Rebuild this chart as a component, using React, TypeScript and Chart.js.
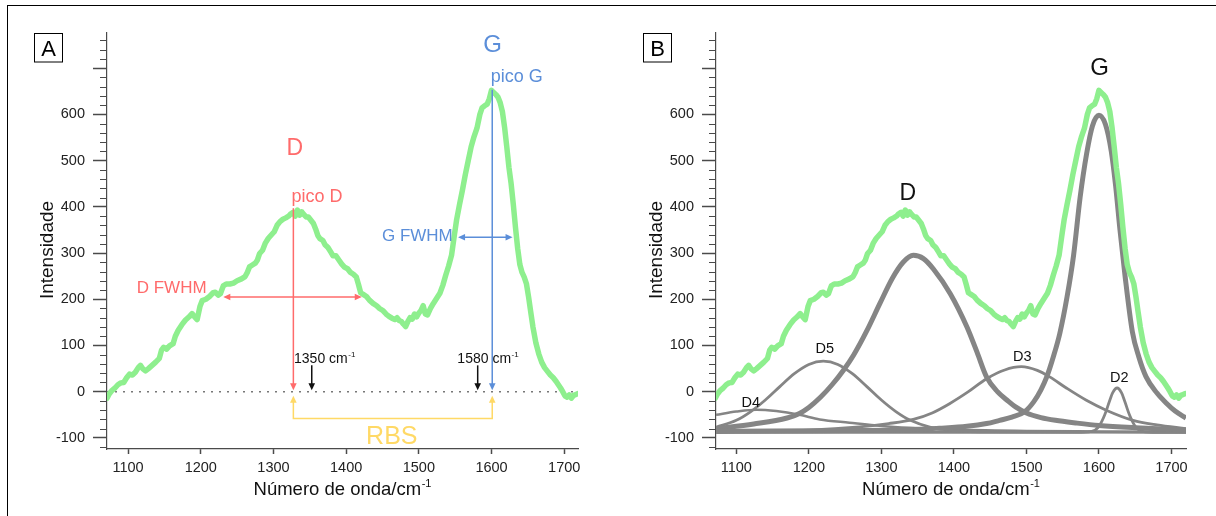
import React, { useEffect, useRef } from "react";
import { Chart, registerables } from "chart.js";
Chart.register(...registerables);

const FONT = '"Liberation Sans", Arial, Helvetica, sans-serif';
const RED = "#ff6b6b";
const BLUE = "#5b8ed9";
const YELLOW = "#ffd966";
const GREEN = "#8eef8e";
const GRAY = "#858585";
const AXIS = "#4a4a4a";
const INK = "#111111";

// Raman spectrum
const wavenumbers = [
  1071, 1074, 1078, 1082, 1086, 1090, 1094, 1098, 1102, 1106, 1110, 1114, 1117, 1120, 1124, 1128, 1133, 1138,
  1143, 1146, 1149, 1153, 1157, 1162, 1165, 1169, 1174, 1179, 1184, 1188, 1191, 1195, 1199, 1202, 1207, 1212,
  1217, 1220, 1224, 1227, 1231, 1235, 1240, 1245, 1250, 1256, 1261, 1264, 1267, 1271, 1275, 1278, 1281, 1285,
  1289, 1293, 1297, 1301, 1305, 1309, 1313, 1317, 1321, 1324, 1327, 1330, 1333, 1336, 1339, 1342, 1345, 1348,
  1351, 1355, 1358, 1361, 1364, 1368, 1371, 1375, 1379, 1382, 1386, 1390, 1394, 1398, 1402, 1406, 1410, 1414,
  1417, 1420, 1424, 1428, 1432, 1437, 1442, 1446, 1451, 1455, 1459, 1463, 1467, 1470, 1473, 1476, 1479, 1482,
  1485, 1488, 1491, 1494, 1497, 1500, 1503, 1506, 1509, 1512, 1516, 1520, 1525, 1529, 1533, 1537, 1541, 1545,
  1549, 1552, 1556, 1560, 1564, 1568, 1572, 1576, 1580, 1584, 1587, 1590, 1594, 1597, 1600, 1603, 1606, 1609,
  1612, 1615, 1618, 1621, 1624, 1627, 1630, 1633, 1636, 1639, 1642, 1645, 1648, 1651, 1654, 1657, 1661, 1665,
  1669, 1673, 1677, 1681, 1685, 1689, 1692, 1695, 1698, 1701, 1704, 1707, 1710, 1713, 1716, 1719,
];
const intensity = [
  -14, -5, 3, 8, 15, 19, 20, 30, 38, 36, 42, 52, 57, 50, 45, 50, 57, 64,
  72, 90, 96, 92, 99, 104, 120, 133, 145, 155, 162, 169, 163, 156, 185, 197, 200, 206,
  214, 215, 209, 212, 229, 233, 233, 235, 240, 244, 249, 258, 270, 274, 278, 285, 299, 306,
  322, 332, 339, 346, 360, 368, 373, 376, 380, 385, 388, 380, 393, 382, 389, 383, 378, 378,
  372, 364, 352, 338, 331, 327, 318, 312, 302, 294, 294, 285, 276, 269, 266, 258, 254, 248,
  232, 214, 210, 206, 198, 191, 186, 180, 175, 168, 163, 159, 156, 160, 154, 152, 146, 141,
  152, 160, 157, 168, 162, 170, 176, 186, 168, 166, 180, 191, 203, 213, 230, 252, 272, 295,
  340, 372, 405, 436, 470, 500, 530, 552, 570, 600, 614, 618, 622, 634, 652, 647, 643, 637,
  625, 606, 572, 530, 485, 450, 405, 355, 310, 275, 258, 248, 234, 205, 172, 140, 106, 82,
  64, 52, 44, 36, 30, 22, 15, 8, 0, -9, -12, -7, -14, -8, -6, -4,
];

// Fitted bands of panel B, [wavenumber, intensity]
const bandG = [
  [1072, -86], [1150, -85], [1250, -84], [1326, -83], [1380, -79], [1418, -75], [1445, -69], [1463, -62],
  [1480, -55], [1497, -44], [1510, -22], [1520, 4], [1528, 32], [1537, 75], [1546, 126], [1556, 205],
  [1565, 295], [1574, 420], [1583, 515], [1591, 575], [1600, 598], [1609, 578], [1617, 520], [1623, 445],
  [1629, 350], [1636, 250], [1646, 130], [1655, 75], [1665, 32], [1680, -3], [1693, -25], [1705, -42], [1720, -57],
];
const bandD1 = [
  [1072, -80], [1124, -70], [1170, -57], [1187, -47], [1200, -34], [1216, -12], [1232, 15], [1248, 47],
  [1262, 80], [1280, 132], [1298, 191], [1315, 245], [1330, 280], [1344, 295], [1358, 288], [1372, 265],
  [1395, 212], [1418, 140], [1432, 85], [1445, 32], [1460, 0], [1473, -18], [1485, -33], [1500, -46],
  [1520, -56], [1540, -62], [1570, -68], [1600, -73], [1650, -78], [1720, -83],
];
const bandD3 = [
  [1072, -87], [1200, -83], [1270, -76], [1310, -69], [1344, -60], [1370, -46], [1394, -26], [1420, 0],
  [1445, 28], [1470, 47], [1493, 54], [1515, 46], [1532, 32], [1555, 8], [1582, -18], [1610, -40],
  [1647, -62], [1680, -72], [1720, -80],
];
const bandD5 = [
  [1072, -77], [1100, -62], [1120, -43], [1140, -18], [1160, 11], [1180, 39], [1200, 59], [1220, 66],
  [1240, 59], [1260, 39], [1280, 11], [1300, -18], [1320, -43], [1340, -62], [1368, -77], [1400, -84],
  [1450, -87], [1720, -88],
];
const bandD4 = [
  [1072, -50], [1100, -43], [1128, -39], [1155, -42], [1187, -50], [1215, -60], [1256, -67], [1300, -74],
  [1338, -78], [1400, -82], [1500, -85], [1600, -86], [1720, -87],
];
const bandD2 = [
  [1072, -88], [1570, -88], [1590, -86], [1600, -75], [1608, -50], [1614, -23], [1619, -2], [1625, 8],
  [1631, -2], [1636, -23], [1642, -50], [1650, -75], [1660, -86], [1680, -88], [1720, -88],
];
const baselineB = [[1072, -88], [1720, -88]];
const zeroLineA = [[1071, 0], [1719, 0]];

// Axis ticks
const xTickValues = [1100, 1200, 1300, 1400, 1500, 1600, 1700];
const yMajorTicks = [-100, 0, 100, 200, 300, 400, 500, 600, 700];
const yTickLabels = ["-100", "0", "100", "200", "300", "400", "500", "600", ""];
const yMinorTicks = [
  -120, -80, -60, -40, -20, 20, 40, 60, 80, 120, 140, 160, 180, 220, 240, 260, 280, 320, 340, 360, 380,
  420, 440, 460, 480, 520, 540, 560, 580, 620, 640, 660, 680, 720, 740, 760,
];

// Annotations of panel A (data coordinates)
const arrowsA = [
  { pts: [[1327.4, 397], [1327.4, 3]], color: RED, start: false, end: true },
  { pts: [[1231, 205], [1421.5, 205]], color: RED, start: true, end: true },
  { pts: [[1601, 653], [1601, 3]], color: BLUE, start: false, end: true },
  { pts: [[1554, 334], [1629, 334]], color: BLUE, start: true, end: true },
  { pts: [[1327.4, -9], [1327.4, -58], [1601, -58], [1601, -9]], color: YELLOW, start: true, end: true },
  { pts: [[1352.7, 57], [1352.7, 3]], color: INK, start: false, end: true },
  { pts: [[1581, 57], [1581, 3]], color: INK, start: false, end: true },
];
const labelsA = [
  { text: "D", x: 1329.3, y: 512, size: 23, color: RED, align: "center" },
  { text: "pico D", x: 1324.9, y: 411, size: 18, color: RED, align: "left" },
  { text: "D FWHM", x: 1208, y: 212.7, size: 17, color: RED, align: "right" },
  { text: "G", x: 1601.5, y: 734.7, size: 24, color: BLUE, align: "center" },
  { text: "pico G", x: 1599, y: 669.7, size: 18, color: BLUE, align: "left" },
  { text: "G FWHM", x: 1546.7, y: 326.6, size: 17, color: BLUE, align: "right" },
  { text: "RBS", x: 1462.8, y: -112.2, size: 25, color: YELLOW, align: "center" },
  { text: "1350 cm", sup: "-1", x: 1328.3, y: 62.4, size: 14, color: INK, align: "left" },
  { text: "1580 cm", sup: "-1", x: 1553, y: 62.4, size: 14, color: INK, align: "left" },
];
const labelsB = [
  { text: "D", x: 1336.6, y: 414.8, size: 23, color: INK, align: "center" },
  { text: "G", x: 1600.8, y: 685.5, size: 24, color: INK, align: "center" },
  { text: "D4", x: 1119.9, y: -32.9, size: 14.5, color: INK, align: "center" },
  { text: "D5", x: 1222, y: 82.7, size: 14.5, color: INK, align: "center" },
  { text: "D3", x: 1494.2, y: 66, size: 14.5, color: INK, align: "center" },
  { text: "D2", x: 1627.9, y: 21.2, size: 14.5, color: INK, align: "center" },
];

const toXY = (arr: number[][]) => arr.map(([x, y]) => ({ x, y }));

function drawText(ctx: CanvasRenderingContext2D, l: any) {
  ctx.textBaseline = "alphabetic";
  ctx.textAlign = "left";
  ctx.font = `${l.size}px ${FONT}`;
  const w1 = ctx.measureText(l.text).width;
  const supSize = Math.round(l.size * 0.58);
  let w2 = 0;
  if (l.sup) {
    ctx.font = `${supSize}px ${FONT}`;
    w2 = ctx.measureText(l.sup).width + 0.5;
  }
  const total = w1 + w2;
  const x0 = l.align === "center" ? l.px - total / 2 : l.align === "right" ? l.px - total : l.px;
  ctx.fillStyle = l.color;
  ctx.font = `${l.size}px ${FONT}`;
  ctx.fillText(l.text, x0, l.py);
  if (l.sup) {
    ctx.font = `${supSize}px ${FONT}`;
    ctx.fillText(l.sup, x0 + w1 + 0.5, l.py - l.size * 0.43);
  }
}

function arrowHead(ctx: CanvasRenderingContext2D, tx: number, ty: number, fx: number, fy: number) {
  const len = 7, half = 3.3;
  const a = Math.atan2(ty - fy, tx - fx);
  const bx = tx - len * Math.cos(a), by = ty - len * Math.sin(a);
  ctx.beginPath();
  ctx.moveTo(tx, ty);
  ctx.lineTo(bx + half * Math.sin(a), by - half * Math.cos(a));
  ctx.lineTo(bx - half * Math.sin(a), by + half * Math.cos(a));
  ctx.closePath();
  ctx.fill();
}

function makeDecor(panel: string, arrows: any[], labels: any[]) {
  return {
    id: "decor" + panel,
    afterDraw(chart: any) {
      const { ctx, chartArea: ca, scales } = chart;
      const xs = scales.x, ys = scales.y;
      ctx.save();
      // minor y ticks
      ctx.strokeStyle = AXIS;
      ctx.lineWidth = 1;
      yMinorTicks.forEach((v) => {
        const py = Math.round(ys.getPixelForValue(v)) + 0.5;
        ctx.beginPath();
        ctx.moveTo(ca.left - 7, py);
        ctx.lineTo(ca.left, py);
        ctx.stroke();
      });
      // arrows
      arrows.forEach((a) => {
        const p = a.pts.map(([x, y]: number[]) => [xs.getPixelForValue(x), ys.getPixelForValue(y)]);
        ctx.strokeStyle = a.color;
        ctx.fillStyle = a.color;
        ctx.lineWidth = 1.5;
        ctx.lineJoin = "miter";
        ctx.beginPath();
        p.forEach(([x, y]: number[], i: number) => {
          let px = x, py = y;
          if (i === 0 && a.start) {
            const [nx, ny] = p[1];
            const d = Math.hypot(nx - x, ny - y);
            px = x + ((nx - x) / d) * 5; py = y + ((ny - y) / d) * 5;
          }
          if (i === p.length - 1 && a.end) {
            const [nx, ny] = p[i - 1];
            const d = Math.hypot(nx - x, ny - y);
            px = x + ((nx - x) / d) * 5; py = y + ((ny - y) / d) * 5;
          }
          if (i === 0) ctx.moveTo(px, py); else ctx.lineTo(px, py);
        });
        ctx.stroke();
        if (a.start) arrowHead(ctx, p[0][0], p[0][1], p[1][0], p[1][1]);
        if (a.end) {
          const n = p.length - 1;
          arrowHead(ctx, p[n][0], p[n][1], p[n - 1][0], p[n - 1][1]);
        }
      });
      // labels
      labels.forEach((l) => {
        drawText(ctx, { ...l, px: xs.getPixelForValue(l.x), py: ys.getPixelForValue(l.y) });
      });
      // axis titles
      drawText(ctx, {
        text: "Número de onda/cm", sup: "-1", size: 18.5, color: INK, align: "center",
        px: (ca.left + ca.right) / 2, py: ca.bottom + 46,
      });
      ctx.save();
      ctx.translate(ca.left - 54, (ca.top + ca.bottom) / 2 + 9);
      ctx.rotate(-Math.PI / 2);
      drawText(ctx, { text: "Intensidade", size: 19, color: INK, align: "center", px: 0, py: 0 });
      ctx.restore();
      // panel letter box
      const bx = ca.left - 72.5, by = ca.top + 0.5;
      ctx.strokeStyle = "#000";
      ctx.lineWidth = 1;
      ctx.strokeRect(bx, by, 28, 28.5);
      drawText(ctx, { text: panel, size: 22, color: "#000", align: "center", px: bx + 14, py: by + 22 });
      ctx.restore();
    },
  };
}

function makeOptions(xmin: number, xmax: number, left: number) {
  return {
    responsive: false,
    maintainAspectRatio: false,
    animation: false as const,
    devicePixelRatio: 1,
    layout: { padding: { top: 33, right: 30, left: 0, bottom: 0 } },
    plugins: { legend: { display: false }, tooltip: { enabled: false } },
    elements: { point: { radius: 0 } },
    scales: {
      x: {
        type: "linear" as const,
        min: xmin,
        max: xmax,
        afterBuildTicks: (s: any) => { s.ticks = xTickValues.map((v) => ({ value: v })); },
        afterFit: (s: any) => { s.height = 67; },
        ticks: {
          font: { family: FONT, size: 14.5 }, color: "#222", padding: 5, maxRotation: 0, autoSkip: false,
          callback: (v: any) => String(v),
        },
        grid: { drawOnChartArea: false, drawTicks: true, tickLength: 5, tickColor: AXIS, tickWidth: 1.5 },
        border: { display: true, color: AXIS, width: 1.2 },
      },
      y: {
        type: "linear" as const,
        min: -124,
        max: 776,
        afterBuildTicks: (s: any) => { s.ticks = yMajorTicks.map((v) => ({ value: v })); },
        afterFit: (s: any) => { s.width = left; },
        ticks: {
          font: { family: FONT, size: 14.5 }, color: "#222", padding: 8, autoSkip: false,
          callback: (v: any) => { const i = yMajorTicks.indexOf(v); return i >= 0 ? yTickLabels[i] : ""; },
        },
        grid: { drawOnChartArea: false, drawTicks: true, tickLength: 14, tickColor: AXIS, tickWidth: 1.5 },
        border: { display: true, color: AXIS, width: 1.2 },
      },
    },
  };
}

const greenSet = () => ({
  data: wavenumbers.map((x, i) => ({ x, y: intensity[i] })),
  borderColor: GREEN,
  borderWidth: 5.5,
  borderJoinStyle: "round" as const,
  borderCapStyle: "round" as const,
  tension: 0,
  pointRadius: 0,
});
const graySet = (arr: number[][], w: number, color = GRAY) => ({
  data: toXY(arr),
  borderColor: color,
  borderWidth: w,
  cubicInterpolationMode: "monotone" as const,
  pointRadius: 0,
});

export default function App() {
  const refA = useRef<HTMLCanvasElement>(null);
  const refB = useRef<HTMLCanvasElement>(null);

  useEffect(() => {
    const chartA = new Chart(refA.current as HTMLCanvasElement, {
      type: "line",
      data: {
        datasets: [
          greenSet(),
          {
            data: toXY(zeroLineA),
            borderColor: "#777",
            borderWidth: 1.5,
            borderDash: [2, 6],
            pointRadius: 0,
          },
        ],
      },
      options: makeOptions(1071, 1719, 107) as any,
      plugins: [makeDecor("A", arrowsA, labelsA)],
    });
    const chartB = new Chart(refB.current as HTMLCanvasElement, {
      type: "line",
      data: {
        datasets: [
          greenSet(),
          graySet(bandG, 5),
          graySet(bandD1, 5),
          graySet(bandD3, 2.8),
          graySet(bandD5, 2.8),
          graySet(bandD4, 2.5),
          graySet(bandD2, 2.8),
          graySet(baselineB, 1.5, "#9a9a9a"),
        ],
      },
      options: makeOptions(1072, 1720, 108) as any,
      plugins: [makeDecor("B", [], labelsB)],
    });
    return () => {
      chartA.destroy();
      chartB.destroy();
    };
  }, []);

  return (
    <div style={{ position: "absolute", left: 0, top: 0, width: 1216, height: 516, background: "#fff", overflow: "hidden" }}>
      <div
        style={{
          position: "absolute", left: 7, top: 5, right: 0, bottom: 0,
          borderTop: "1px solid #000", borderLeft: "1px solid #000",
        }}
      />
      <canvas ref={refA} width={608} height={516} style={{ position: "absolute", left: 0, top: 0, width: 608, height: 516 }} />
      <canvas ref={refB} width={608} height={516} style={{ position: "absolute", left: 608, top: 0, width: 608, height: 516 }} />
    </div>
  );
}
